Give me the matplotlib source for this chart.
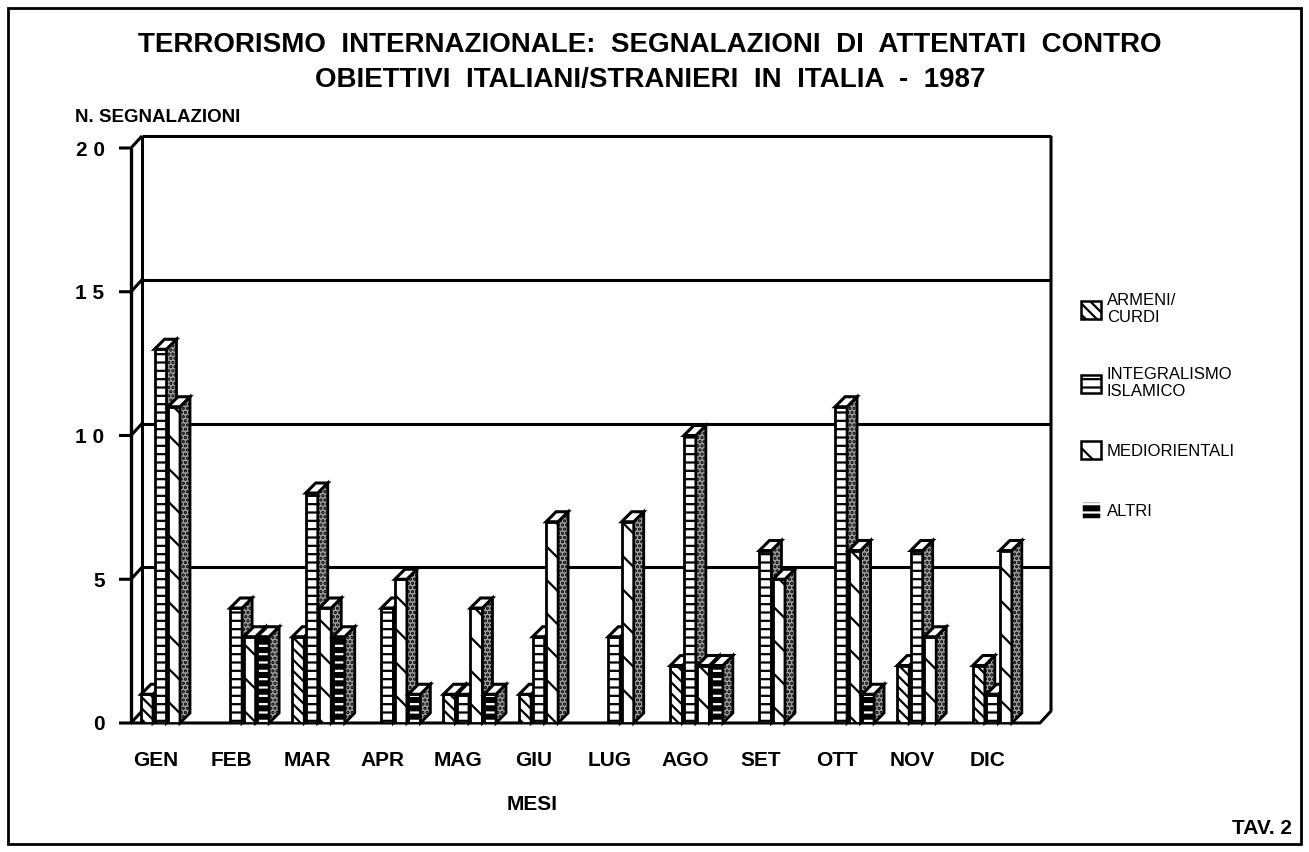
import numpy as np
import matplotlib.pyplot as plt
from matplotlib.patches import Polygon, Patch

plt.rcParams['font.family'] = ['Liberation Sans', 'DejaVu Sans']
plt.rcParams['hatch.linewidth'] = 1.6

# dati
mesi = ["GEN", "FEB", "MAR", "APR", "MAG", "GIU", "LUG", "AGO", "SET", "OTT", "NOV", "DIC"]
armeni = [1, 0, 3, 0, 1, 1, 0, 2, 0, 0, 2, 2]
integralismo = [13, 4, 8, 4, 1, 3, 3, 10, 6, 11, 6, 1]
mediorientali = [11, 3, 4, 5, 4, 7, 7, 2, 5, 6, 3, 6]
altri = [0, 3, 3, 1, 1, 0, 0, 2, 0, 1, 0, 0]
serie = ["ARMENI/\nCURDI", "INTEGRALISMO\nISLAMICO", "MEDIORIENTALI", "ALTRI"]
y_ticks = [0, 5, 10, 15, 20]
y_labels = ["0", "5", "1 0", "1 5", "2 0"]

valori = [armeni, integralismo, mediorientali, altri]
stili = [
    dict(facecolor="white", edgecolor="black", hatch="\\\\\\"),
    dict(facecolor="white", edgecolor="black", hatch="--"),
    dict(facecolor="white", edgecolor="black", hatch="\\"),
    dict(facecolor="black", edgecolor="white", hatch="--"),
]

W, H = 1309, 852
fig = plt.figure(figsize=(W / 100, H / 100), dpi=100)
ax = fig.add_axes([131 / W, 1 - 723 / H, 909 / W, 575 / H])
ax.set_ylim(0, 20)
ax.set_xlim(-25 / 75.6, 11.69)
for s in ax.spines.values():
    s.set_visible(False)
ax.patch.set_visible(False)

def to_data(pts):
    return ax.transData.inverted().transform(np.asarray(pts, dtype=float))

def to_disp(x, y):
    return ax.transData.transform((x, y))

def poly(pts, **kw):
    ax.add_patch(Polygon(to_data(pts), closed=True, clip_on=False, **kw))

def line(pts, **kw):
    d = to_data(pts)
    ax.plot(d[:, 0], d[:, 1], color="black", clip_on=False, solid_capstyle="butt", **kw)

# pareti del grafico 3D
dx, dy = 11, 12
x0, x1 = ax.get_xlim()
bl = to_disp(x0, 0)
br = to_disp(x1, 0)
tl = to_disp(x0, 20)
for v in y_ticks[1:]:
    p = to_disp(x0, v)
    line([p + (dx, dy), (br[0] + dx, p[1] + dy)], lw=2.2)
    line([p - (12, 0), p, p + (dx, dy)], lw=2.2)
line([bl - (12, 0), bl, bl + (dx, dy)], lw=2.2)
line([bl, tl], lw=2.4)
line([bl + (dx, dy), tl + (dx, dy)], lw=2.2)
line([bl, br, br + (dx, dy), (br[0] + dx, tl[1] + dy)], lw=2.2)

# barre 3D
px_mese = 75.6
larg = 12 / px_mese
passo = 13.5 / px_mese
sx, sy = 10, 10
for i in range(len(mesi)):
    for k, vals in enumerate(valori):
        v = vals[i]
        if v == 0:
            continue
        xl = i - 15 / px_mese + k * passo
        z = 3 + 4 * k
        ax.bar(xl, v, larg, align="edge", lw=0 if k == 3 else 2, zorder=z, **stili[k])
        if k == 3:
            ax.bar(xl, v, larg, align="edge", fill=False, edgecolor="black", lw=2, zorder=z)
        a = to_disp(xl + larg, 0)
        b = to_disp(xl + larg, v)
        c = to_disp(xl, v)
        poly([a, a + (sx, sy), b + (sx, sy), b], facecolor="#a0a0a0", edgecolor="black",
             hatch="....", lw=2, zorder=z + 1)
        poly([c, c + (sx, sy), b + (sx, sy), b], facecolor="white", edgecolor="black",
             lw=2.2, zorder=z + 2)

ax.set_xticks(range(len(mesi)))
ax.set_xticklabels(mesi, fontsize=15, fontweight="bold")
ax.tick_params(axis="x", length=0, pad=20)
ax.set_yticks(y_ticks)
ax.set_yticklabels(y_labels, fontsize=15, fontweight="bold")
ax.tick_params(axis="y", length=0, pad=19)

# testi
fig.text(650 / W, 1 - 45 / H, "TERRORISMO  INTERNAZIONALE:  SEGNALAZIONI  DI  ATTENTATI  CONTRO",
         ha="center", va="center", fontsize=20, fontweight="bold")
fig.text(650 / W, 1 - 80 / H, "OBIETTIVI  ITALIANI/STRANIERI  IN  ITALIA  -  1987",
         ha="center", va="center", fontsize=20, fontweight="bold")
fig.text(75 / W, 1 - 117 / H, "N. SEGNALAZIONI", ha="left", va="center", fontsize=13.5, fontweight="bold")
fig.text(532 / W, 1 - 805 / H, "MESI", ha="center", va="center", fontsize=15, fontweight="bold")
fig.text(1292 / W, 1 - 828 / H, "TAV. 2", ha="right", va="center", fontsize=15, fontweight="bold")

handles = [Patch(lw=1.8, **st) for st in stili]
fig.legend(handles, serie, loc="upper left", bbox_to_anchor=(1066 / W, 1 - 278 / H),
           frameon=False, fontsize=12, labelspacing=2.5, handlelength=1.2,
           handleheight=1.3, handletextpad=0.35)

# cornice esterna
fig.add_artist(plt.Rectangle((8 / W, 8 / H), 1 - 16 / W, 1 - 16 / H, fill=False,
                             lw=2, edgecolor="black", transform=fig.transFigure))

fig.savefig("out.png", dpi=100)
